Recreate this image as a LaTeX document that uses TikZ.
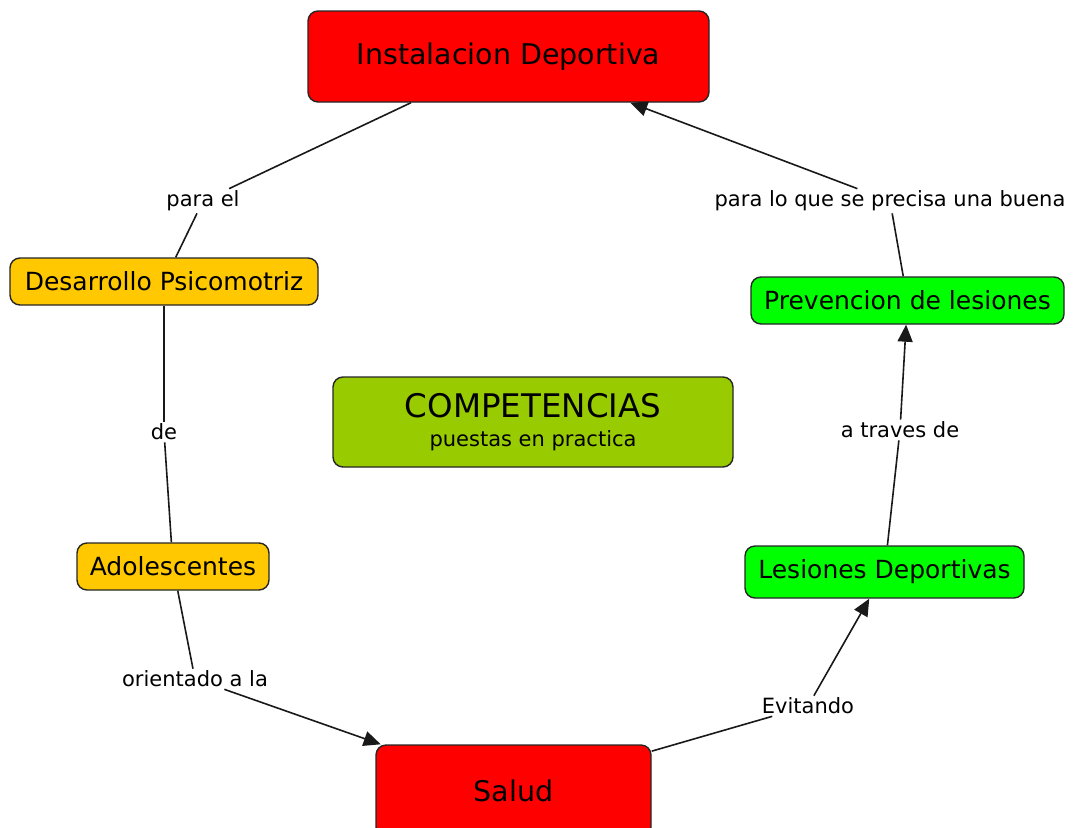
\documentclass[tikz,border=0pt]{standalone}
\usepackage{fontspec}
\setmainfont{DejaVu Sans}
\usetikzlibrary{arrows.meta}
\definecolor{cred}{HTML}{FF0000}
\definecolor{cgold}{HTML}{FFC800}
\definecolor{cgreen}{HTML}{00FF00}
\definecolor{clime}{HTML}{99CC00}
\begin{document}
\begin{tikzpicture}[x=1pt,y=-1pt,
  concept/.style={draw=black!85, line width=1.4pt, rounded corners=10pt, inner sep=0pt, align=center},
  lab/.style={fill=white, inner sep=2pt, font=\fontsize{21}{25}\selectfont},
  link/.style={line width=1.6pt, draw=black!90},
  arr/.style={link, -{Triangle[length=17pt,width=15pt]}}]
\useasboundingbox (0,0) rectangle (1075,827);
\node[concept, fill=cred, minimum width=401pt, minimum height=91pt, font=\fontsize{28.5}{34}\selectfont] (inst) at (508.5,56.5) {Instalacion Deportiva};
\node[concept, fill=cgold, minimum width=308pt, minimum height=47pt, font=\fontsize{25}{30}\selectfont] (desa) at (164,281.5) {Desarrollo Psicomotriz};
\node[concept, fill=cgold, minimum width=192pt, minimum height=47pt, font=\fontsize{25}{30}\selectfont] (adol) at (173,566.5) {Adolescentes};
\node[concept, fill=cred, minimum width=275pt, minimum height=92pt, font=\fontsize{28.5}{34}\selectfont] (salud) at (513.5,791) {Salud};
\node[concept, fill=cgreen, minimum width=279pt, minimum height=52pt, font=\fontsize{25}{30}\selectfont] (lesi) at (884.5,572) {Lesiones Deportivas};
\node[concept, fill=cgreen, minimum width=313pt, minimum height=47pt, font=\fontsize{25}{30}\selectfont] (prev) at (907.5,300.5) {Prevencion de lesiones};
\node[concept, fill=clime, minimum width=400pt, minimum height=90pt, font=\fontsize{21}{25}\selectfont] (comp) at (533,422) {{\fontsize{32.5}{38}\selectfont COMPETENCIAS}\\[4pt]puestas en practica};

\node[lab] (l1) at (203,201) {para el};
\node[lab] (l2) at (164,432) {de};
\node[lab] (l3) at (195,679) {orientado a la};
\node[lab] (l4) at (808,706) {Evitando};
\node[lab] (l5) at (900,430) {a traves de};
\node[lab] (l6) at (890,201) {para lo que se precisa una buena};

\draw[link] (inst) -- (l1);
\draw[link] (l1) -- (desa);
\draw[link] (desa) -- (l2);
\draw[link] (l2) -- (adol);
\draw[link] (adol) -- (l3);
\draw[arr] (l3) -- (salud);
\draw[link] (salud) -- (l4);
\draw[arr] (l4) -- (lesi);
\draw[link] (lesi) -- (l5);
\draw[arr] (l5) -- (prev);
\draw[link] (prev) -- (l6);
\draw[arr] (l6) -- (inst);
\end{tikzpicture}
\end{document}
